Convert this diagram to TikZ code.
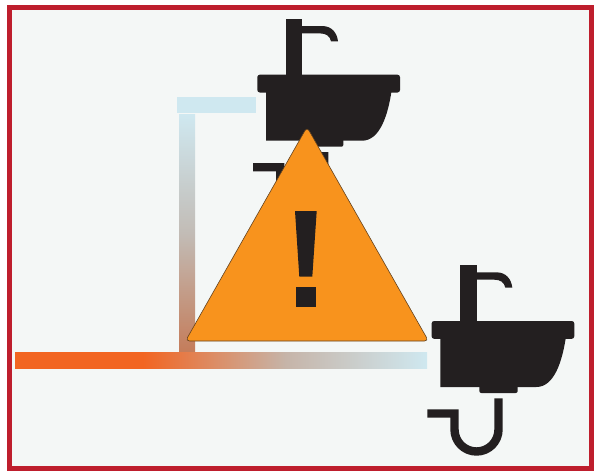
\documentclass[tikz,border=0pt]{standalone}
\definecolor{framered}{HTML}{BE1E2D}
\definecolor{panel}{HTML}{F4F7F6}
\definecolor{sinkblack}{HTML}{231F20}
\definecolor{warnorange}{HTML}{F8931D}
\definecolor{pipeorange}{HTML}{F26522}
\definecolor{pipeblue}{HTML}{CFE8F0}
\definecolor{pipemid}{HTML}{C47C5A}
\definecolor{pipegrey}{HTML}{C6B4A8}
\definecolor{pipevgrey}{HTML}{C2BCB6}
\tikzset{
  sinkfill/.style={fill=sinkblack,draw=none},
  pipeline/.style={draw=sinkblack,line width=8.4,line cap=butt,line join=miter},
  sinkicon/.pic={
    \fill[sinkfill] (286,19) rectangle (302.3,80);
    \fill[sinkfill] (302,26) -- (322,26) .. controls (332,26) and (337,33) .. (338,41.3) -- (331,41.3) .. controls (330,36) and (326,33.4) .. (320,33.4) -- (302,33.4) -- cycle;
    \fill[sinkfill,rounded corners=2.5] (257.3,74.7) rectangle (400,92.5);
    \fill[sinkfill] (266,90) -- (391.7,90) .. controls (388,115) and (380,140.7) .. (362,140.7) -- (266,140.7) -- cycle;
    \fill[sinkfill,rounded corners=2] (305,135) rectangle (343.4,146.7);
    \draw[pipeline] (253,167.2) -- (280.2,167.2) -- (280.2,183.2) arc[start angle=180,end angle=0,radius=22] -- (324.2,152);
  }
}
\begin{document}
\begin{tikzpicture}[x=1pt,y=-1pt]
\useasboundingbox (0,0) rectangle (594,472);
\fill[white] (0,0) rectangle (594,472);
\draw[framered,line width=5,fill=panel] (9.2,7.5) rectangle (591.5,468.5);
\pic at (0,0) {sinkicon};
\pic at (174.3,246.3) {sinkicon};
\fill[pipeblue] (177,96.7) rectangle (256,112.7);
\shade[top color=pipeblue,bottom color=pipemid,middle color=pipevgrey] (179,114) rectangle (195,352);
\fill[pipeorange] (15,352) rectangle (143,368.6);
\shade[left color=pipeorange,right color=pipeblue,middle color=pipegrey] (143,352) rectangle (427,368.6);
\path[fill=warnorange,draw=sinkblack!70!warnorange,line width=.6,line join=round,rounded corners=4]
  (307,127) -- (428.5,341) -- (185.5,341) -- cycle;
\fill[sinkblack] (295,211) -- (316.7,211) -- (312.3,276.7) -- (299.3,276.7) -- cycle;
\fill[sinkblack] (295.7,286.7) rectangle (315.7,306.7);
\end{tikzpicture}
\end{document}
